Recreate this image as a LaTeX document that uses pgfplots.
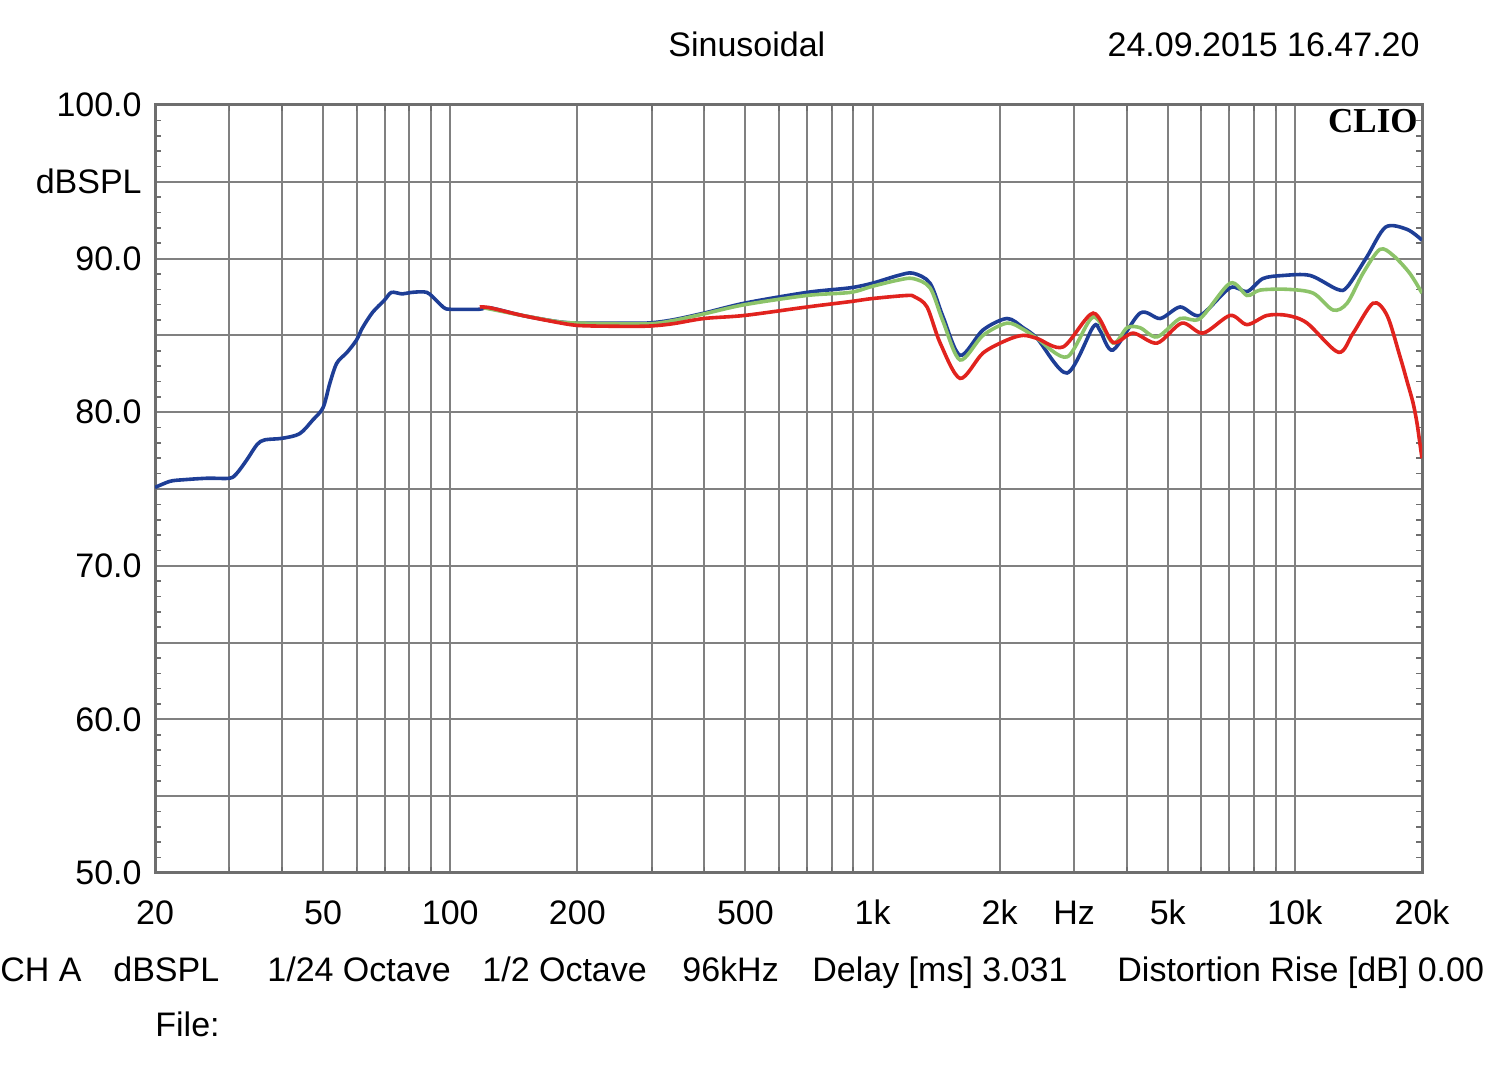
\documentclass[border=0pt]{standalone}
\usepackage{pgfplots}
\pgfplotsset{compat=1.18}
\usepackage{fontspec}
\setmainfont{Liberation Sans}
\newfontfamily\cliofont{Liberation Serif}
\definecolor{cblue}{RGB}{30,62,150}
\definecolor{cgreen}{RGB}{140,195,105}
\definecolor{cred}{RGB}{225,35,30}
\definecolor{gridc}{RGB}{128,128,128}
\definecolor{framec}{RGB}{110,110,110}
\newcommand{\tf}{\fontsize{17}{20}\selectfont}
\begin{document}
\begin{tikzpicture}
\path[use as bounding box] (-77.5pt,-100.5pt) rectangle (672.5pt,436.5pt);
\begin{axis}[
  at={(0pt,0pt)}, anchor=south west,
  scale only axis, width=633.5pt, height=384pt,
  xmode=log, xmin=20, xmax=20000, ymin=50, ymax=100,
  xtick={20,50,100,200,500,1000,2000,3000,5000,10000,20000},
  xticklabels={20,50,100,200,500,1k,2k,Hz,5k,10k,20k},
  minor xtick={30,40,60,70,80,90,300,400,600,700,800,900,4000,6000,7000,8000,9000},
  ytick={50,55,...,100},
  yticklabels={50.0,,60.0,,70.0,,80.0,,90.0,dBSPL,100.0},
  minor ytick={51,52,53,54,56,57,58,59,61,62,63,64,66,67,68,69,71,72,73,74,76,77,78,79,81,82,83,84,86,87,88,89,91,92,93,94,96,97,98,99},
  xmajorgrids, xminorgrids, ymajorgrids,
  major grid style={draw=gridc, line width=1pt},
  minor grid style={draw=gridc, line width=1pt},
  tick pos=both, ticklabel pos=left, tick align=inside,
  major tick length=0pt, minor tick length=3pt,
  every tick/.style={draw=framec, line width=0.8pt},
  axis line style={draw=framec, line width=1.5pt},
  xticklabel style={font=\tf, anchor=base, yshift=-26pt, inner sep=0pt},
  yticklabel style={font=\tf, anchor=east, xshift=-6.5pt, inner sep=0pt},
  clip=true,
]
\addplot[cblue, line width=1.8pt, smooth] coordinates {
(20,75.1)(21.7,75.5)(23.3,75.6)(26.6,75.7)(30,75.7)(31.2,76.0)(33,76.9)(34.9,77.9)(36.4,78.2)(40,78.3)(44,78.6)(47.3,79.5)(50,80.3)(51.9,81.9)(53.9,83.2)(57,83.9)(60,84.7)(62,85.5)(65.5,86.5)(69.9,87.3)(72.6,87.8)(77,87.7)(81,87.8)(88,87.8)(93.3,87.2)(96.7,86.8)(100,86.7)(117,86.7)(124,86.8)(148,86.3)(179,85.9)(200,85.8)(234,85.8)(291,85.8)(335,86.0)(399,86.45)(498,87.1)(700,87.8)(886,88.1)(1000,88.4)(1150,88.9)(1247,89.05)(1368,88.4)(1469,86.2)(1612,83.7)(1826,85.35)(2082,86.1)(2272,85.5)(2453,84.8)(2888,82.55)(3330,85.55)(3458,85.3)(3710,84.05)(4300,86.45)(4800,86.1)(5350,86.85)(5965,86.3)(7025,88.1)(7706,87.85)(8400,88.7)(9380,88.9)(10870,88.9)(12600,88.0)(13300,88.15)(14800,90.1)(16400,92.05)(18440,91.9)(20000,91.2)
};
\addplot[cgreen, line width=1.8pt, smooth] coordinates {
(120,86.8)(148,86.3)(179,85.9)(200,85.8)(291,85.75)(335,85.95)(399,86.4)(498,87.0)(700,87.6)(886,87.8)(1000,88.2)(1150,88.6)(1247,88.7)(1368,88.1)(1469,85.9)(1612,83.4)(1826,85.0)(2082,85.8)(2272,85.4)(2453,84.8)(2888,83.6)(3330,86.2)(3710,84.5)(4006,85.5)(4300,85.5)(4718,84.9)(5350,86.1)(5965,86.1)(7025,88.4)(7706,87.6)(8272,87.95)(9590,88.0)(11050,87.75)(12320,86.65)(13300,87.1)(14500,89.05)(15900,90.6)(17100,90.2)(18700,89.05)(20000,87.75)
};
\addplot[cred, line width=1.8pt, smooth] coordinates {
(117.5,86.85)(124,86.8)(148,86.3)(179,85.85)(200,85.65)(234,85.6)(291,85.6)(335,85.75)(399,86.1)(498,86.3)(700,86.85)(886,87.2)(1000,87.4)(1208,87.6)(1260,87.5)(1346,86.85)(1446,84.5)(1612,82.2)(1826,83.85)(2082,84.7)(2272,85.0)(2453,84.8)(2826,84.25)(3330,86.45)(3710,84.55)(4138,85.15)(4718,84.5)(5400,85.8)(6060,85.15)(7025,86.3)(7706,85.7)(8594,86.3)(9590,86.3)(10690,85.8)(12680,83.9)(13740,85.15)(15320,87.1)(16530,86.3)(17750,83.6)(18440,82.0)(19050,80.6)(19460,79.3)(19790,77.9)(20000,77.0)
};
\end{axis}
\node[anchor=base west, inner sep=0pt, font=\tf] at (256.5pt,408pt) {Sinusoidal};
\node[anchor=base east, inner sep=0pt, font=\tf] at (632.5pt,408pt) {24.09.2015 16.47.20};
\node[anchor=base east, inner sep=0pt, font=\cliofont\bfseries\fontsize{17.5}{20}\selectfont] at (631.5pt,370pt) {CLIO};
\node[anchor=base west, inner sep=0pt, font=\tf] at (-77.5pt,-54.5pt) {CH A};
\node[anchor=base west, inner sep=0pt, font=\tf] at (-21pt,-54.5pt) {dBSPL};
\node[anchor=base west, inner sep=0pt, font=\tf] at (56pt,-54.5pt) {1/24 Octave};
\node[anchor=base west, inner sep=0pt, font=\tf] at (163.5pt,-54.5pt) {1/2 Octave};
\node[anchor=base west, inner sep=0pt, font=\tf] at (263.5pt,-54.5pt) {96kHz};
\node[anchor=base west, inner sep=0pt, font=\tf] at (328.5pt,-54.5pt) {Delay [ms] 3.031};
\node[anchor=base west, inner sep=0pt, font=\tf] at (481pt,-54.5pt) {Distortion Rise [dB] 0.00};
\node[anchor=base west, inner sep=0pt, font=\tf] at (0pt,-82pt) {File:};
\end{tikzpicture}
\end{document}
